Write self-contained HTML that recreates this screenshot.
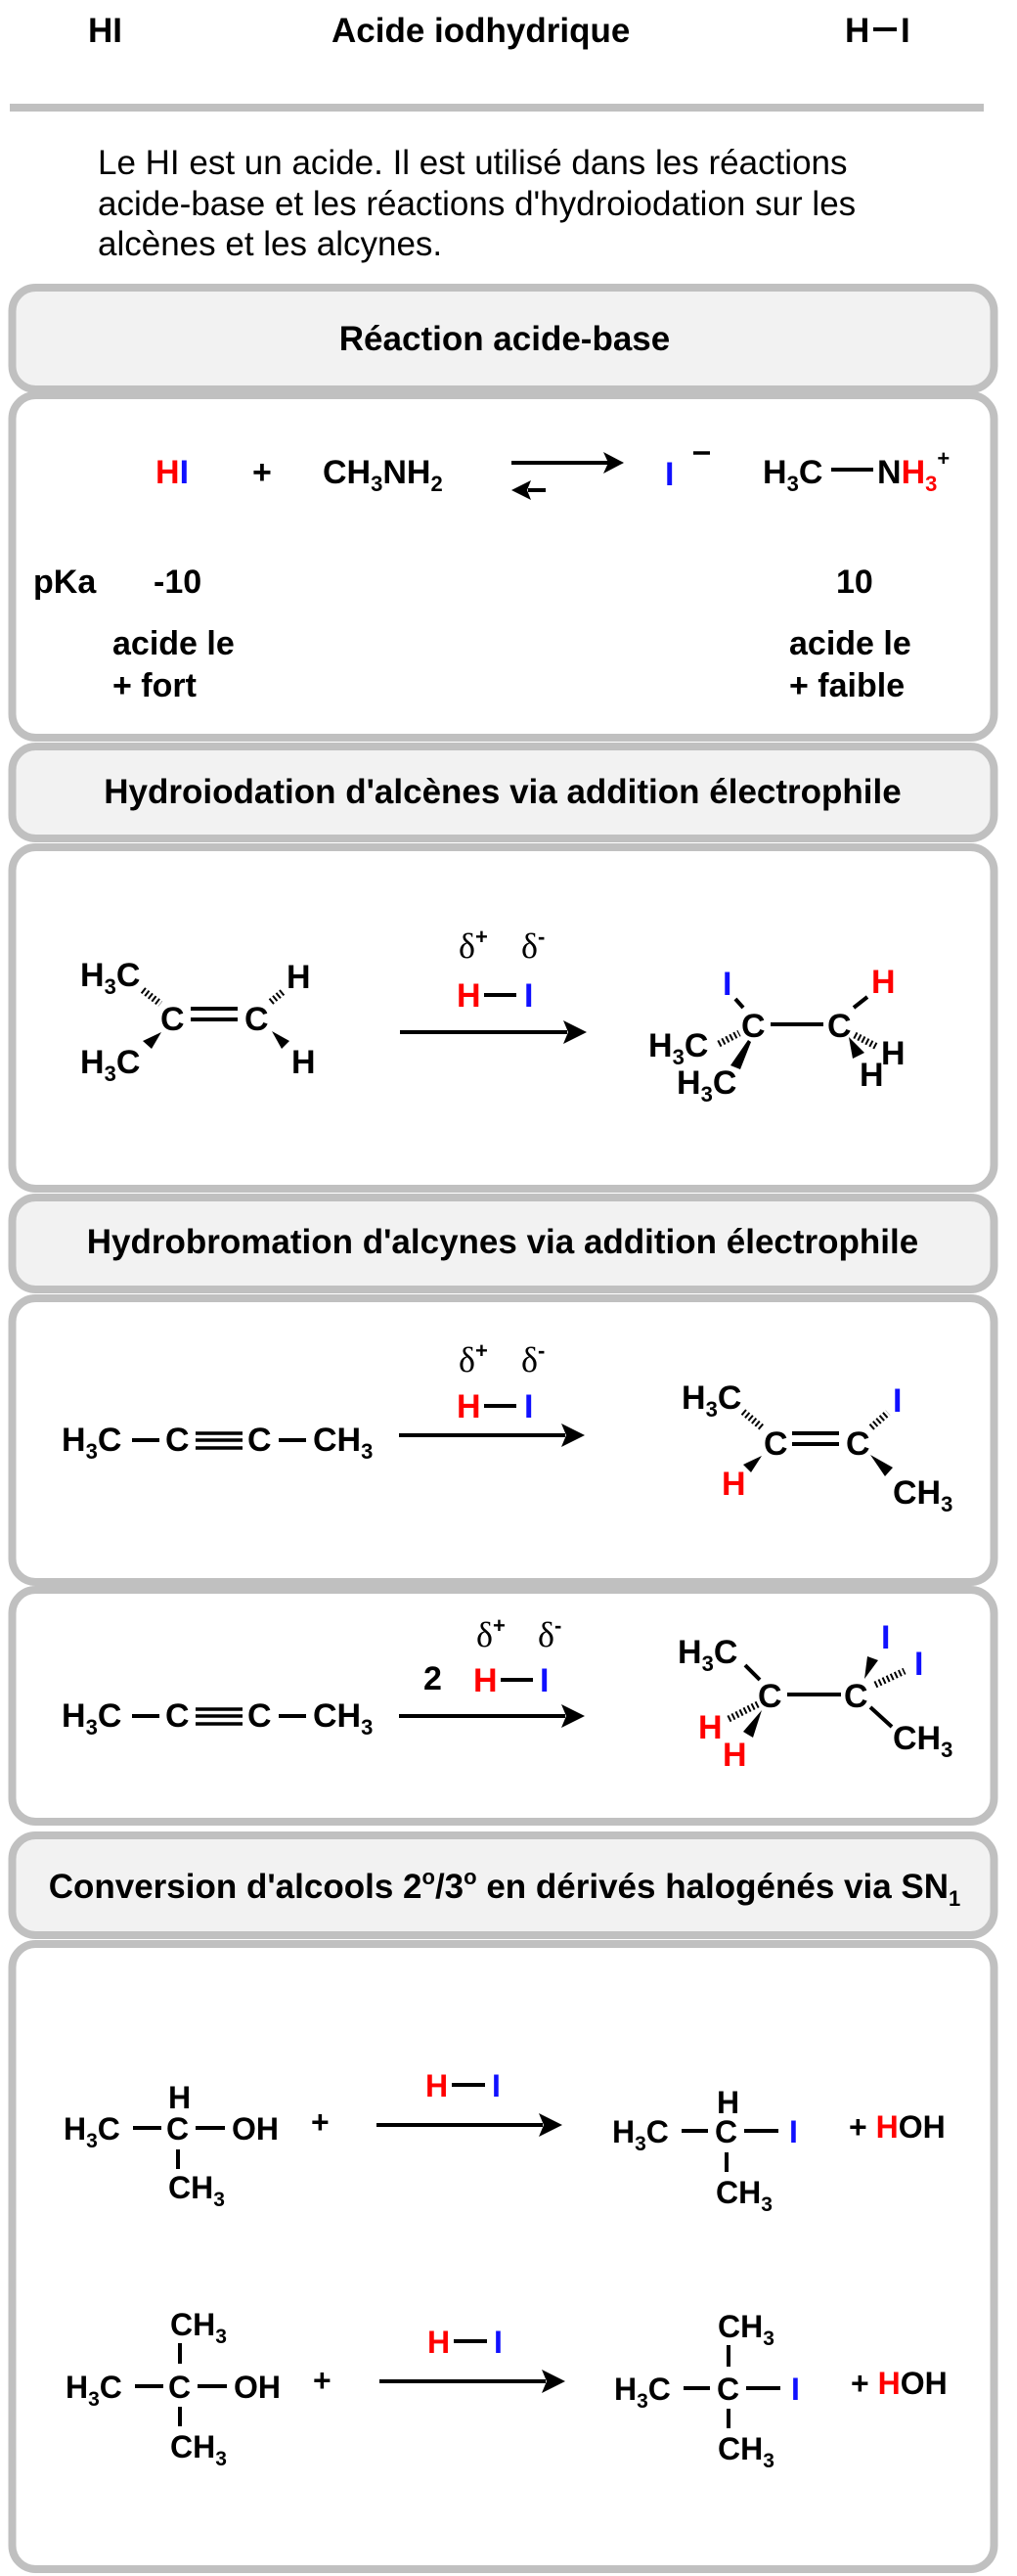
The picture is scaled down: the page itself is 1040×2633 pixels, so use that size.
<!DOCTYPE html>
<html><head><meta charset="utf-8"><style>
html,body{margin:0;padding:0;background:#fff}
svg{display:block}
text{font-family:"Liberation Sans",Arial,sans-serif}
.b{font-weight:bold;font-size:34px}
.c{font-weight:bold;font-size:32px}
.h{font-weight:bold;font-size:35px}
.r{fill:#ff0000}.u{fill:#1010ff}
.d{font-family:"Liberation Serif",serif;font-size:36px}
</style></head><body>
<svg width="1040" height="2633" viewBox="0 0 1040 2633" xmlns="http://www.w3.org/2000/svg">
<defs>
<marker id="ah" markerWidth="10" markerHeight="10" refX="9" refY="5" orient="auto" markerUnits="userSpaceOnUse" viewBox="0 0 10 10"></marker>
</defs>
<!-- title -->
<text class="h" x="90" y="43">HI</text>
<text class="h" x="339" y="43">Acide iodhydrique</text>
<text class="h" x="864" y="43">H</text><line x1="893" y1="30" x2="917" y2="30" stroke="#000" stroke-width="4"/><text class="h" x="921" y="43">I</text>
<rect x="10" y="106" width="996" height="8" fill="#c0c0c0"/>
<g font-size="35">
<text x="100" y="178">Le HI est un acide. Il est utilisé dans les réactions</text>
<text x="100" y="220">acide-base et les réactions d'hydroiodation sur les</text>
<text x="100" y="261">alcènes et les alcynes.</text>
</g>
<!-- boxes -->
<g stroke="#c0c0c0" stroke-width="8">
<rect x="12.5" y="294" width="1004" height="104" rx="24" fill="#f2f2f2"/>
<rect x="12.5" y="404" width="1004" height="350" rx="24" fill="#fff"/>
<rect x="12.5" y="763" width="1004" height="94" rx="24" fill="#f2f2f2"/>
<rect x="12.5" y="866" width="1004" height="349" rx="24" fill="#fff"/>
<rect x="12.5" y="1224" width="1004" height="94" rx="24" fill="#f2f2f2"/>
<rect x="12.5" y="1327" width="1004" height="290" rx="24" fill="#fff"/>
<rect x="12.5" y="1625" width="1004" height="237" rx="24" fill="#fff"/>
<rect x="12.5" y="1876" width="1004" height="102" rx="24" fill="#f2f2f2"/>
<rect x="12.5" y="1987" width="1004" height="639" rx="24" fill="#fff"/>
</g>
<g class="h" text-anchor="middle">
<text class="h" x="516" y="358">Réaction acide-base</text>
<text class="h" x="514" y="821">Hydroiodation d'alcènes via addition électrophile</text>
<text class="h" x="514" y="1281">Hydrobromation d'alcynes via addition électrophile</text>
<text class="h" x="516" y="1940">Conversion d'alcools 2<tspan font-size="22" dy="-14">o</tspan><tspan dy="14">/3</tspan><tspan font-size="22" dy="-14">o</tspan><tspan dy="14"> en dérivés halogénés via SN</tspan><tspan font-size="22" dy="8">1</tspan></text>
</g>

<!-- Box 1 -->
<text class="b" x="159" y="494"><tspan class="r">H</tspan><tspan class="u">I</tspan></text>
<text class="b" x="258" y="494">+</text>
<text class="b" x="330" y="494">CH<tspan font-size="22" dy="8">3</tspan><tspan dy="-8">NH</tspan><tspan font-size="22" dy="8">2</tspan></text>
<line x1="523" y1="473" x2="622" y2="473" stroke="#000" stroke-width="4"/>
<polygon points="638,473 617,462 622,473 617,484" fill="#000"/>
<line x1="540" y1="501" x2="558" y2="501" stroke="#000" stroke-width="4"/>
<polygon points="523,501 543,491 539,501 543,511" fill="#000"/>
<text class="b u" x="680" y="496">I</text>
<line x1="709" y1="463" x2="726" y2="463" stroke="#000" stroke-width="3.5"/>
<text class="b" x="780" y="494">H<tspan font-size="22" dy="8">3</tspan><tspan dy="-8">C</tspan></text>
<line x1="850" y1="480" x2="893" y2="480" stroke="#000" stroke-width="4"/>
<text class="b" x="897" y="494">N<tspan class="r">H</tspan><tspan class="r" font-size="22" dy="8">3</tspan><tspan font-size="22" dy="-26">+</tspan></text>
<text class="b" x="34" y="606">pKa</text>
<text class="b" x="157" y="606">-10</text>
<text class="b" x="855" y="606">10</text>
<text class="b" x="115" y="669">acide le</text>
<text class="b" x="115" y="712">+ fort</text>
<text class="b" x="807" y="669">acide le</text>
<text class="b" x="807" y="712">+ faible</text>

<!-- Box 2 -->
<text class="b" x="82" y="1008">H<tspan font-size="22" dy="8">3</tspan><tspan dy="-8">C</tspan></text>
<line x1="146" y1="1012" x2="164" y2="1026" stroke="#000" stroke-width="7" stroke-dasharray="2 2.5"/>
<text class="b" x="164" y="1053">C</text>
<line x1="195" y1="1031" x2="243" y2="1031" stroke="#000" stroke-width="4"/>
<line x1="195" y1="1042" x2="243" y2="1042" stroke="#000" stroke-width="4"/>
<text class="b" x="250" y="1053">C</text>
<line x1="277" y1="1024" x2="289" y2="1014" stroke="#000" stroke-width="7" stroke-dasharray="2 2.5"/>
<text class="b" x="293" y="1010">H</text>
<polygon points="278,1054 296,1064 288,1072" fill="#000"/>
<text class="b" x="298" y="1097">H</text>
<polygon points="165,1055 146,1064 155,1072" fill="#000"/>
<text class="b" x="82" y="1097">H<tspan font-size="22" dy="8">3</tspan><tspan dy="-8">C</tspan></text>
<text class="d" x="469" y="979">δ<tspan font-family="Liberation Sans" font-weight="bold" font-size="22" dy="-14">+</tspan></text>
<text class="d" x="533" y="979">δ<tspan font-family="Liberation Sans" font-weight="bold" font-size="22" dy="-14">-</tspan></text>
<text class="b r" x="467" y="1029">H</text><line x1="495" y1="1017" x2="528" y2="1017" stroke="#000" stroke-width="4"/><text class="b u" x="536" y="1029">I</text>
<line x1="409" y1="1055" x2="580" y2="1055" stroke="#000" stroke-width="4"/>
<polygon points="600,1055 576,1043 581,1055 576,1067" fill="#000"/>
<text class="b u" x="739" y="1017">I</text>
<line x1="752" y1="1021" x2="760" y2="1030" stroke="#000" stroke-width="4"/>
<text class="b" x="758" y="1060">C</text>
<line x1="788" y1="1047" x2="842" y2="1047" stroke="#000" stroke-width="4"/>
<text class="b" x="846" y="1060">C</text>
<line x1="873" y1="1030" x2="887" y2="1019" stroke="#000" stroke-width="4"/>
<text class="b r" x="891" y="1015">H</text>
<text class="b" x="663" y="1080">H<tspan font-size="22" dy="8">3</tspan><tspan dy="-8">C</tspan></text>
<line x1="735" y1="1067" x2="756" y2="1056" stroke="#000" stroke-width="7" stroke-dasharray="2 2.5"/>
<polygon points="765,1063 768,1065 757,1093 747,1089" fill="#000"/>
<text class="b" x="692" y="1118">H<tspan font-size="22" dy="8">3</tspan><tspan dy="-8">C</tspan></text>
<line x1="874" y1="1058" x2="897" y2="1070" stroke="#000" stroke-width="7" stroke-dasharray="2 2.5"/>
<text class="b" x="901" y="1088">H</text>
<polygon points="868,1060 884,1076 872,1082" fill="#000"/>
<text class="b" x="879" y="1110">H</text>

<!-- Box 3 -->
<g>
<text class="b" x="63" y="1483">H<tspan font-size="22" dy="8">3</tspan><tspan dy="-8">C</tspan></text>
<line x1="135" y1="1472" x2="163" y2="1472" stroke="#000" stroke-width="4"/>
<text class="b" x="169" y="1483">C</text>
<line x1="200" y1="1465" x2="248" y2="1465" stroke="#000" stroke-width="3.5"/>
<line x1="200" y1="1472" x2="248" y2="1472" stroke="#000" stroke-width="3.5"/>
<line x1="200" y1="1480" x2="248" y2="1480" stroke="#000" stroke-width="3.5"/>
<text class="b" x="253" y="1483">C</text>
<line x1="285" y1="1472" x2="313" y2="1472" stroke="#000" stroke-width="4"/>
<text class="b" x="320" y="1483">CH<tspan font-size="22" dy="8">3</tspan></text>
</g>
<text class="d" x="469" y="1402">δ<tspan font-family="Liberation Sans" font-weight="bold" font-size="22" dy="-14">+</tspan></text>
<text class="d" x="533" y="1402">δ<tspan font-family="Liberation Sans" font-weight="bold" font-size="22" dy="-14">-</tspan></text>
<text class="b r" x="467" y="1449">H</text><line x1="495" y1="1437" x2="528" y2="1437" stroke="#000" stroke-width="4"/><text class="b u" x="536" y="1449">I</text>
<line x1="408" y1="1467" x2="578" y2="1467" stroke="#000" stroke-width="4"/>
<polygon points="598,1467 574,1455 579,1467 574,1479" fill="#000"/>
<text class="b" x="697" y="1440">H<tspan font-size="22" dy="8">3</tspan><tspan dy="-8">C</tspan></text>
<line x1="760" y1="1443" x2="779" y2="1459" stroke="#000" stroke-width="7" stroke-dasharray="2 2.5"/>
<text class="b" x="781" y="1487">C</text>
<line x1="810" y1="1465" x2="858" y2="1465" stroke="#000" stroke-width="4"/>
<line x1="810" y1="1476" x2="858" y2="1476" stroke="#000" stroke-width="4"/>
<text class="b" x="865" y="1487">C</text>
<line x1="891" y1="1459" x2="908" y2="1444" stroke="#000" stroke-width="7" stroke-dasharray="2 2.5"/>
<text class="b u" x="913" y="1443">I</text>
<polygon points="779,1488 760,1497 768,1505" fill="#000"/>
<text class="b r" x="738" y="1528">H</text>
<polygon points="890,1487 913,1500 905,1509" fill="#000"/>
<text class="b" x="913" y="1537">CH<tspan font-size="22" dy="8">3</tspan></text>

<!-- Box 4 -->
<g>
<text class="b" x="63" y="1765">H<tspan font-size="22" dy="8">3</tspan><tspan dy="-8">C</tspan></text>
<line x1="135" y1="1754" x2="163" y2="1754" stroke="#000" stroke-width="4"/>
<text class="b" x="169" y="1765">C</text>
<line x1="200" y1="1747" x2="248" y2="1747" stroke="#000" stroke-width="3.5"/>
<line x1="200" y1="1754" x2="248" y2="1754" stroke="#000" stroke-width="3.5"/>
<line x1="200" y1="1762" x2="248" y2="1762" stroke="#000" stroke-width="3.5"/>
<text class="b" x="253" y="1765">C</text>
<line x1="285" y1="1754" x2="313" y2="1754" stroke="#000" stroke-width="4"/>
<text class="b" x="320" y="1765">CH<tspan font-size="22" dy="8">3</tspan></text>
</g>
<text class="d" x="487" y="1683">δ<tspan font-family="Liberation Sans" font-weight="bold" font-size="22" dy="-14">+</tspan></text>
<text class="d" x="550" y="1683">δ<tspan font-family="Liberation Sans" font-weight="bold" font-size="22" dy="-14">-</tspan></text>
<text class="b" x="433" y="1727">2</text>
<text class="b r" x="484" y="1729">H</text><line x1="512" y1="1717" x2="545" y2="1717" stroke="#000" stroke-width="4"/><text class="b u" x="552" y="1729">I</text>
<line x1="408" y1="1754" x2="578" y2="1754" stroke="#000" stroke-width="4"/>
<polygon points="598,1754 574,1742 579,1754 574,1766" fill="#000"/>
<text class="b" x="693" y="1700">H<tspan font-size="22" dy="8">3</tspan><tspan dy="-8">C</tspan></text>
<line x1="762" y1="1702" x2="777" y2="1717" stroke="#000" stroke-width="4"/>
<text class="b" x="775" y="1745">C</text>
<line x1="805" y1="1732" x2="860" y2="1732" stroke="#000" stroke-width="4"/>
<text class="b" x="863" y="1745">C</text>
<polygon points="884,1716 887,1693 898,1697" fill="#000"/>
<text class="b u" x="901" y="1685">I</text>
<line x1="895" y1="1722" x2="925" y2="1708" stroke="#000" stroke-width="7" stroke-dasharray="2 2.5"/>
<text class="b u" x="935" y="1712">I</text>
<line x1="775" y1="1742" x2="745" y2="1757" stroke="#000" stroke-width="7" stroke-dasharray="2 2.5"/>
<text class="b r" x="714" y="1777">H</text>
<polygon points="779,1748 760,1770 770,1776" fill="#000"/>
<text class="b r" x="739" y="1805">H</text>
<line x1="890" y1="1745" x2="912" y2="1765" stroke="#000" stroke-width="4"/>
<text class="b" x="913" y="1788">CH<tspan font-size="22" dy="8">3</tspan></text>

<!-- Box 5 row 1 -->
<text class="c" x="65" y="2187">H<tspan font-size="21" dy="8">3</tspan><tspan dy="-8">C</tspan></text>
<line x1="136" y1="2175" x2="165" y2="2175" stroke="#000" stroke-width="4"/>
<text class="c" x="170" y="2187">C</text>
<line x1="200" y1="2175" x2="230" y2="2175" stroke="#000" stroke-width="4"/>
<text class="c" x="237" y="2187">OH</text>
<text class="c" x="172" y="2155">H</text>
<line x1="182" y1="2197" x2="182" y2="2217" stroke="#000" stroke-width="4"/>
<text class="c" x="172" y="2247">CH<tspan font-size="21" dy="8">3</tspan></text>
<text class="c" x="318" y="2180">+</text>
<text class="c r" x="435" y="2143">H</text><line x1="462" y1="2131" x2="496" y2="2131" stroke="#000" stroke-width="4"/><text class="c u" x="503" y="2143">I</text>
<line x1="385" y1="2172" x2="555" y2="2172" stroke="#000" stroke-width="4"/>
<polygon points="575,2172 551,2160 556,2172 551,2184" fill="#000"/>
<text class="c" x="626" y="2190">H<tspan font-size="21" dy="8">3</tspan><tspan dy="-8">C</tspan></text>
<line x1="697" y1="2178" x2="724" y2="2178" stroke="#000" stroke-width="4"/>
<text class="c" x="731" y="2190">C</text>
<line x1="761" y1="2178" x2="796" y2="2178" stroke="#000" stroke-width="4"/>
<text class="c u" x="807" y="2190">I</text>
<text class="c" x="733" y="2160">H</text>
<line x1="743" y1="2200" x2="743" y2="2220" stroke="#000" stroke-width="4"/>
<text class="c" x="732" y="2252">CH<tspan font-size="21" dy="8">3</tspan></text>
<text class="c" x="868" y="2185">+ <tspan class="r">H</tspan>OH</text>

<!-- Box 5 row 2 -->
<text class="c" x="174" y="2387">CH<tspan font-size="21" dy="8">3</tspan></text>
<line x1="184" y1="2395" x2="184" y2="2416" stroke="#000" stroke-width="4"/>
<text class="c" x="67" y="2451">H<tspan font-size="21" dy="8">3</tspan><tspan dy="-8">C</tspan></text>
<line x1="138" y1="2439" x2="167" y2="2439" stroke="#000" stroke-width="4"/>
<text class="c" x="172" y="2451">C</text>
<line x1="202" y1="2439" x2="232" y2="2439" stroke="#000" stroke-width="4"/>
<text class="c" x="239" y="2451">OH</text>
<line x1="184" y1="2460" x2="184" y2="2480" stroke="#000" stroke-width="4"/>
<text class="c" x="174" y="2512">CH<tspan font-size="21" dy="8">3</tspan></text>
<text class="c" x="320" y="2444">+</text>
<text class="c r" x="437" y="2405">H</text><line x1="464" y1="2393" x2="498" y2="2393" stroke="#000" stroke-width="4"/><text class="c u" x="505" y="2405">I</text>
<line x1="388" y1="2434" x2="558" y2="2434" stroke="#000" stroke-width="4"/>
<polygon points="578,2434 554,2422 559,2434 554,2446" fill="#000"/>
<text class="c" x="734" y="2389">CH<tspan font-size="21" dy="8">3</tspan></text>
<line x1="745" y1="2397" x2="745" y2="2419" stroke="#000" stroke-width="4"/>
<text class="c" x="628" y="2453">H<tspan font-size="21" dy="8">3</tspan><tspan dy="-8">C</tspan></text>
<line x1="699" y1="2441" x2="726" y2="2441" stroke="#000" stroke-width="4"/>
<text class="c" x="733" y="2453">C</text>
<line x1="763" y1="2441" x2="798" y2="2441" stroke="#000" stroke-width="4"/>
<text class="c u" x="809" y="2453">I</text>
<line x1="745" y1="2462" x2="745" y2="2482" stroke="#000" stroke-width="4"/>
<text class="c" x="734" y="2514">CH<tspan font-size="21" dy="8">3</tspan></text>
<text class="c" x="870" y="2447">+ <tspan class="r">H</tspan>OH</text>
</svg>
</body></html>
